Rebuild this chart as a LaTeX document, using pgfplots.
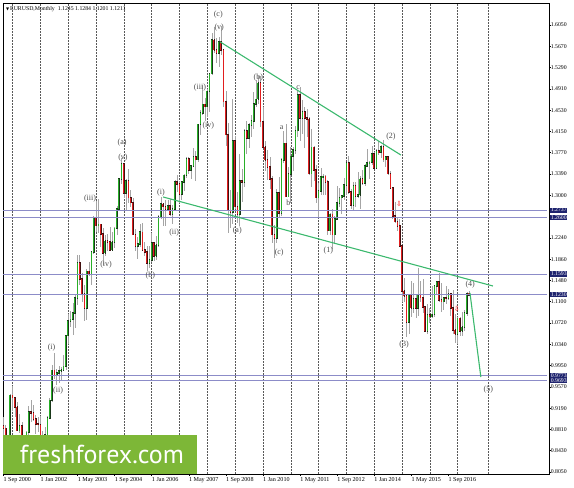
\documentclass[border=0pt]{standalone}
\usepackage{fontspec}
\setmainfont{Liberation Serif}
\newfontfamily\ptsans{PT Sans}
\newfontfamily\dejavu{DejaVu Sans}
\usepackage{pgfplots}
\usepackage{pgfplotstable}
\pgfplotsset{compat=1.18}

\definecolor{wick}{RGB}{165,165,165}
\definecolor{upbody}{RGB}{25,55,25}
\definecolor{upedge}{RGB}{40,175,40}
\definecolor{dnbody}{RGB}{65,15,15}
\definecolor{dnedge}{RGB}{225,30,30}
\definecolor{trend}{RGB}{60,185,110}
\definecolor{level}{RGB}{140,140,200}
\definecolor{pricebox}{RGB}{30,35,110}
\definecolor{brand}{RGB}{125,183,55}
\tikzset{wl/.style={font=\fontsize{8}{8}\selectfont, text=black!70, inner sep=0pt}}

% EURUSD monthly, month 0 = Sep 2000
\pgfplotstableread{
t o h l c
0 0.8880 0.9030 0.8440 0.8830
1 0.8830 0.8890 0.8228 0.8490
2 0.8490 0.8710 0.8400 0.8700
3 0.8700 0.9440 0.8660 0.9420
4 0.9420 0.9595 0.9150 0.9380
5 0.9380 0.9390 0.9040 0.9210
6 0.9210 0.9300 0.8780 0.8790
7 0.8790 0.9080 0.8740 0.8870
8 0.8870 0.8950 0.8450 0.8460
9 0.8460 0.8690 0.8350 0.8490
10 0.8490 0.8780 0.8420 0.8760
11 0.8760 0.9230 0.8710 0.9120
12 0.9120 0.9330 0.8940 0.9110
13 0.9110 0.9250 0.8970 0.9000
14 0.9000 0.9070 0.8730 0.8910
15 0.8910 0.9040 0.8760 0.8900
16 0.8900 0.9050 0.8580 0.8600
17 0.8600 0.8790 0.8560 0.8690
18 0.8690 0.8850 0.8640 0.8720
19 0.8720 0.9060 0.8710 0.9020
20 0.9020 0.9370 0.8990 0.9330
21 0.9330 0.9970 0.9300 0.9870
22 0.9870 1.0180 0.9710 0.9780
23 0.9780 0.9900 0.9610 0.9820
24 0.9820 0.9950 0.9650 0.9860
25 0.9860 0.9930 0.9690 0.9880
26 0.9880 1.0140 0.9850 0.9940
27 0.9940 1.0490 0.9870 1.0490
28 1.0490 1.0870 1.0340 1.0750
29 1.0750 1.0930 1.0650 1.0780
30 1.0780 1.1080 1.0500 1.0900
31 1.0900 1.1230 1.0630 1.1160
32 1.1160 1.1930 1.1040 1.1790
33 1.1790 1.1930 1.1400 1.1500
34 1.1500 1.1620 1.1100 1.1240
35 1.1240 1.1400 1.0760 1.0980
36 1.0980 1.1680 1.0770 1.1640
37 1.1640 1.1810 1.1550 1.1600
38 1.1600 1.2010 1.1390 1.1990
39 1.1990 1.2640 1.1960 1.2590
40 1.2590 1.2900 1.2340 1.2460
41 1.2460 1.2930 1.2330 1.2480
42 1.2480 1.2490 1.2080 1.2310
43 1.2310 1.2410 1.1760 1.1970
44 1.1970 1.2300 1.1910 1.2190
45 1.2190 1.2310 1.2000 1.2170
46 1.2170 1.2440 1.2010 1.2020
47 1.2020 1.2340 1.2010 1.2170
48 1.2170 1.2440 1.2060 1.2410
49 1.2410 1.2810 1.2290 1.2760
50 1.2760 1.3310 1.2730 1.3290
51 1.3290 1.3667 1.3210 1.3560
52 1.3560 1.3580 1.2960 1.3040
53 1.3040 1.3290 1.2730 1.3260
54 1.3260 1.3480 1.2870 1.2960
55 1.2960 1.3100 1.2790 1.2870
56 1.2870 1.2960 1.2290 1.2300
57 1.2300 1.2400 1.2000 1.2100
58 1.2100 1.2250 1.1860 1.2130
59 1.2130 1.2480 1.2070 1.2340
60 1.2340 1.2500 1.2000 1.2020
61 1.2020 1.2160 1.1910 1.1990
62 1.1990 1.2100 1.1640 1.1790
63 1.1790 1.2100 1.1700 1.1840
64 1.1840 1.2330 1.1800 1.2150
65 1.2150 1.2160 1.1820 1.1920
66 1.1920 1.2270 1.1850 1.2110
67 1.2110 1.2650 1.2070 1.2620
68 1.2620 1.2980 1.2570 1.2850
69 1.2850 1.2870 1.2450 1.2800
70 1.2800 1.2920 1.2460 1.2760
71 1.2760 1.2910 1.2740 1.2810
72 1.2810 1.2940 1.2640 1.2670
73 1.2670 1.2830 1.2480 1.2760
74 1.2760 1.3270 1.2750 1.3240
75 1.3240 1.3370 1.3060 1.3200
76 1.3200 1.3250 1.2870 1.3020
77 1.3020 1.3260 1.2910 1.3240
78 1.3240 1.3390 1.3080 1.3360
79 1.3360 1.3680 1.3320 1.3650
80 1.3650 1.3680 1.3380 1.3450
81 1.3450 1.3550 1.3300 1.3530
82 1.3530 1.3850 1.3510 1.3690
83 1.3690 1.3800 1.3260 1.3640
84 1.3640 1.4280 1.3600 1.4270
85 1.4270 1.4530 1.4080 1.4480
86 1.4480 1.4970 1.4440 1.4630
87 1.4630 1.4750 1.4340 1.4590
88 1.4590 1.4900 1.4400 1.4860
89 1.4860 1.5190 1.4500 1.5180
90 1.5180 1.5900 1.5160 1.5790
91 1.5790 1.6020 1.5550 1.5600
92 1.5600 1.5820 1.5370 1.5550
93 1.5550 1.5840 1.5290 1.5750
94 1.5750 1.6038 1.5520 1.5600
95 1.5600 1.5620 1.4580 1.4680
96 1.4680 1.4870 1.3880 1.4090
97 1.4090 1.4300 1.2330 1.2730
98 1.2730 1.3090 1.2420 1.2700
99 1.2700 1.4720 1.2480 1.3970
100 1.3970 1.4060 1.2760 1.2800
101 1.2800 1.3060 1.2510 1.2660
102 1.2660 1.3740 1.2460 1.3260
103 1.3260 1.3480 1.2890 1.3240
104 1.3240 1.4180 1.3150 1.4150
105 1.4150 1.4340 1.3750 1.4030
106 1.4030 1.4300 1.3850 1.4260
107 1.4260 1.4440 1.4040 1.4330
108 1.4330 1.4850 1.4190 1.4640
109 1.4640 1.5060 1.4580 1.4720
110 1.4720 1.5140 1.4640 1.5010
111 1.5010 1.5140 1.4220 1.4320
112 1.4320 1.4580 1.3860 1.3870
113 1.3870 1.3980 1.3440 1.3630
114 1.3630 1.3820 1.3270 1.3510
115 1.3510 1.3690 1.3110 1.3290
116 1.3290 1.3340 1.2140 1.2300
117 1.2300 1.2470 1.1880 1.2230
118 1.2230 1.3110 1.2150 1.3050
119 1.3050 1.3330 1.2590 1.2690
120 1.2690 1.3670 1.2640 1.3630
121 1.3630 1.4160 1.3580 1.3930
122 1.3930 1.4280 1.2970 1.2980
123 1.2980 1.3510 1.2970 1.3380
124 1.3380 1.3860 1.2870 1.3700
125 1.3700 1.3860 1.3440 1.3810
126 1.3810 1.4250 1.3740 1.4160
127 1.4160 1.4880 1.4050 1.4800
128 1.4800 1.4940 1.3970 1.4390
129 1.4390 1.4700 1.4100 1.4500
130 1.4500 1.4580 1.3840 1.4390
131 1.4390 1.4550 1.4050 1.4370
132 1.4370 1.4400 1.3360 1.3390
133 1.3390 1.4190 1.3150 1.3860
134 1.3860 1.3880 1.3250 1.3450
135 1.3450 1.3550 1.2860 1.2960
136 1.2960 1.3230 1.2620 1.3080
137 1.3080 1.3490 1.3000 1.3330
138 1.3330 1.3380 1.3000 1.3340
139 1.3340 1.3360 1.3000 1.3240
140 1.3240 1.3280 1.2290 1.2370
141 1.2370 1.2690 1.2290 1.2660
142 1.2660 1.2750 1.2040 1.2300
143 1.2300 1.2640 1.2130 1.2580
144 1.2580 1.3170 1.2560 1.2860
145 1.2860 1.3140 1.2800 1.2960
146 1.2960 1.3010 1.2660 1.2990
147 1.2990 1.3310 1.2920 1.3190
148 1.3190 1.3590 1.3000 1.3580
149 1.3580 1.3710 1.3030 1.3060
150 1.3060 1.3110 1.2750 1.2820
151 1.2820 1.3240 1.2740 1.3170
152 1.3170 1.3240 1.2800 1.2990
153 1.2990 1.3420 1.2950 1.3010
154 1.3010 1.3350 1.2750 1.3300
155 1.3300 1.3450 1.3190 1.3220
156 1.3220 1.3570 1.3170 1.3530
157 1.3530 1.3830 1.3520 1.3580
158 1.3580 1.3620 1.3300 1.3590
159 1.3590 1.3890 1.3540 1.3750
160 1.3750 1.3770 1.3480 1.3490
161 1.3490 1.3830 1.3480 1.3800
162 1.3800 1.3970 1.3730 1.3770
163 1.3770 1.3910 1.3670 1.3870
164 1.3870 1.3993 1.3590 1.3640
165 1.3640 1.3700 1.3500 1.3690
166 1.3690 1.3700 1.3370 1.3390
167 1.3390 1.3440 1.3130 1.3130
168 1.3130 1.3140 1.2570 1.2630
169 1.2630 1.2890 1.2500 1.2530
170 1.2530 1.2600 1.2360 1.2450
171 1.2450 1.2570 1.2090 1.2100
172 1.2100 1.2110 1.1100 1.1290
173 1.1290 1.1530 1.1100 1.1200
174 1.1200 1.1240 1.0460 1.0730
175 1.0730 1.1240 1.0520 1.1220
176 1.1220 1.1470 1.0820 1.0990
177 1.0990 1.1440 1.0890 1.1150
178 1.1150 1.1220 1.0810 1.0980
179 1.0980 1.1710 1.0850 1.1210
180 1.1210 1.1460 1.1090 1.1170
181 1.1170 1.1500 1.0900 1.1000
182 1.1000 1.1010 1.0560 1.0570
183 1.0570 1.1060 1.0520 1.0860
184 1.0860 1.0990 1.0710 1.0830
185 1.0830 1.1380 1.0810 1.0870
186 1.0870 1.1390 1.0820 1.1380
187 1.1380 1.1470 1.1220 1.1450
188 1.1450 1.1620 1.1100 1.1130
189 1.1130 1.1430 1.0910 1.1100
190 1.1100 1.1190 1.0950 1.1170
191 1.1170 1.1370 1.1050 1.1160
192 1.1160 1.1330 1.1120 1.1240
193 1.1240 1.1260 1.0850 1.0980
194 1.0980 1.1300 1.0520 1.0590
195 1.0590 1.0870 1.0350 1.0520
196 1.0520 1.0830 1.0340 1.0800
197 1.0800 1.0830 1.0490 1.0570
198 1.0570 1.0910 1.0490 1.0650
199 1.0650 1.0950 1.0570 1.0900
200 1.0900 1.1270 1.0840 1.1240
201 1.1245 1.1284 1.1201 1.1211
}\candles

\begin{document}
\begin{tikzpicture}[x=1pt,y=1pt]
\path[use as bounding box] (0,0) rectangle (574,488);
\begin{axis}[
  at={(3pt,14pt)}, anchor=south west,
  scale only axis, width=546pt, height=471pt,
  xmin=-0.17, xmax=235.4, ymin=0.80142, ymax=1.64437,
  axis line style={black, line width=0.6pt},
  tick align=outside, xtick pos=left, ytick pos=right, yticklabel pos=right,
  major tick length=2pt,
  tick style={black, line width=0.5pt},
  xtick={0,16,...,192},
  xticklabels={1 Sep 2000, 1 Jan 2002, 1 May 2003, 1 Sep 2004, 1 Jan 2006, 1 May 2007, 1 Sep 2008, 1 Jan 2010, 1 May 2011, 1 Sep 2012, 1 Jan 2014, 1 May 2015, 1 Sep 2016},
  xticklabel style={anchor=north west, font=\fontsize{6.1}{7}\selectfont, inner sep=0pt, yshift=-1.5pt},
  ytick={1.6050,1.56690,1.52881,1.49071,1.45262,1.41452,1.37643,1.33833,1.30024,1.22405,1.18595,1.14786,1.10976,1.07167,1.03357,0.99548,0.95738,0.91929,0.88119,0.84310,0.80500},
  yticklabels={1.6050,1.5670,1.5290,1.4910,1.4530,1.4150,1.3770,1.3390,1.3000,1.2240,1.1860,1.1480,1.1100,1.0720,1.0340,0.9950,0.9570,0.9190,0.8810,0.8430,0.8050},
  yticklabel style={anchor=west, font=\fontsize{5.8}{6}\selectfont, inner sep=0.6pt, xshift=-1pt},
  extra y ticks={1.2737,1.2600,1.1593,1.1230,0.9773,0.9693},
  extra y tick labels={1.2737,1.2600,1.1593,1.1230,0.9773,0.9693},
  extra y tick style={yticklabel style={fill=pricebox, text=white}},
  minor xtick={4,16,...,196,209.2},
  xminorgrids=true,
  minor grid style={black!65, dash pattern=on 1.5pt off 1.5pt, line width=0.5pt},
  minor tick length=0pt,
]
% wicks
\addplot[draw=none, mark=none, forget plot,
  error bars/.cd, y dir=both, y explicit, error mark=none,
  error bar style={draw=wick, line width=0.8pt}]
  table[x=t, y expr=(\thisrow{h}+\thisrow{l})/2, y error expr=(\thisrow{h}-\thisrow{l})/2] {\candles};
% bullish bodies
\addplot[draw=none, mark=none, forget plot,
  restrict expr to domain={\thisrow{c}-\thisrow{o}}{0:1},
  error bars/.cd, y dir=both, y explicit, error mark=none,
  error bar style={draw=upbody, line width=1.6pt, line cap=rect}]
  table[x=t, y expr=(\thisrow{o}+\thisrow{c})/2, y error expr=(\thisrow{c}-\thisrow{o})/2] {\candles};
\addplot[draw=none, mark=none, forget plot,
  restrict expr to domain={\thisrow{c}-\thisrow{o}}{0:1},
  error bars/.cd, y dir=both, y explicit, error mark=none,
  error bar style={draw=upedge, line width=0.6pt}]
  table[x expr=\thisrow{t}-0.25, y expr=(\thisrow{o}+\thisrow{c})/2, y error expr=(\thisrow{c}-\thisrow{o})/2] {\candles};
% bearish bodies
\addplot[draw=none, mark=none, forget plot,
  restrict expr to domain={\thisrow{o}-\thisrow{c}}{0.00001:1},
  error bars/.cd, y dir=both, y explicit, error mark=none,
  error bar style={draw=dnbody, line width=1.6pt, line cap=rect}]
  table[x=t, y expr=(\thisrow{o}+\thisrow{c})/2, y error expr=(\thisrow{o}-\thisrow{c})/2] {\candles};
\addplot[draw=none, mark=none, forget plot,
  restrict expr to domain={\thisrow{o}-\thisrow{c}}{0.00001:1},
  error bars/.cd, y dir=both, y explicit, error mark=none,
  error bar style={draw=dnedge, line width=0.6pt}]
  table[x expr=\thisrow{t}-0.25, y expr=(\thisrow{o}+\thisrow{c})/2, y error expr=(\thisrow{o}-\thisrow{c})/2] {\candles};
% horizontal levels
\addplot[level, line width=1pt, forget plot] coordinates {(-0.17,1.2737) (234.5,1.2737)};
\addplot[level, line width=1pt, forget plot] coordinates {(-0.17,1.2600) (234.5,1.2600)};
\addplot[level, line width=1pt, forget plot] coordinates {(-0.17,1.1593) (234.5,1.1593)};
\addplot[level, line width=1pt, forget plot] coordinates {(-0.17,1.1230) (234.5,1.1230)};
\addplot[level, line width=1pt, forget plot] coordinates {(-0.17,0.9773) (234.5,0.9773)};
\addplot[level, line width=1pt, forget plot] coordinates {(-0.17,0.9693) (234.5,0.9693)};
% trend lines
\addplot[trend, line width=1.1pt, forget plot] coordinates {(93.4,1.5751) (171.5,1.3723)};
\addplot[trend, line width=1.1pt, forget plot] coordinates {(68.9,1.2972) (211.2,1.1379)};
\addplot[trend, line width=1.1pt, forget plot] coordinates {(201.3,1.1254) (206.0,0.9750)};
% wave labels
\node[wl] at (axis cs:20.8,1.0269) {(i)};
\node[wl] at (axis cs:23.6,0.9500) {(ii)};
\node[wl] at (axis cs:37.4,1.2936) {(iii)};
\node[wl] at (axis cs:44.3,1.1755) {(iv)};
\node[wl] at (axis cs:51.2,1.3938) {(a)};
\node[wl] at (axis cs:51.6,1.3670) {(v)};
\node[wl] at (axis cs:63.4,1.1563) {(b)};
\node[wl] at (axis cs:68.0,1.3043) {(i)};
\node[wl] at (axis cs:73.7,1.2333) {(ii)};
\node[wl] at (axis cs:84.8,1.4928) {(iii)};
\node[wl] at (axis cs:88.4,1.4242) {(iv)};
\node[wl] at (axis cs:92.7,1.6229) {(c)};
\node[wl] at (axis cs:93.1,1.6009) {(v)};
\node[wl] at (axis cs:100.9,1.2363) {(a)};
\node[wl] at (axis cs:110.0,1.5107) {(b)};
\node[wl] at (axis cs:119.0,1.1982) {(c)};
\node[wl] at (axis cs:120.1,1.4212) {a};
\node[wl] at (axis cs:122.9,1.2877) {b};
\node[wl] at (axis cs:127.2,1.4928) {c};
\node[wl] at (axis cs:140.2,1.2005) {(1)};
\node[wl] at (axis cs:167.2,1.4051) {(2)};
\node[wl] at (axis cs:172.9,1.0323) {(3)};
\node[wl] at (axis cs:201.4,1.1397) {(4)};
\node[wl] at (axis cs:209.2,0.9530) {(5)};
% order marks
\node[text=red, font=\dejavu\fontsize{7}{7}\selectfont, inner sep=0pt] at (axis cs:170.7,1.2846) {⇩};
\node[text=red, font=\dejavu\fontsize{7}{7}\selectfont, inner sep=0pt] at (axis cs:195.6,1.0962) {⇩};
% header
\node[anchor=west, font=\fontsize{5.8}{6}\selectfont, inner sep=0pt, xshift=3pt, yshift=-6pt] at (rel axis cs:0,1)
  {{\dejavu\fontsize{4}{4}\selectfont ▼}\,EURUSD,Monthly\enspace 1.1245 1.1284 1.1201 1.1211};
\end{axis}
% watermark
\fill[brand] (3,14) rectangle (197,53);
\node[anchor=base, text=white, font=\ptsans\fontsize{26}{26}\selectfont, inner sep=0pt] at (102,24) {freshforex.com};
\end{tikzpicture}
\end{document}
